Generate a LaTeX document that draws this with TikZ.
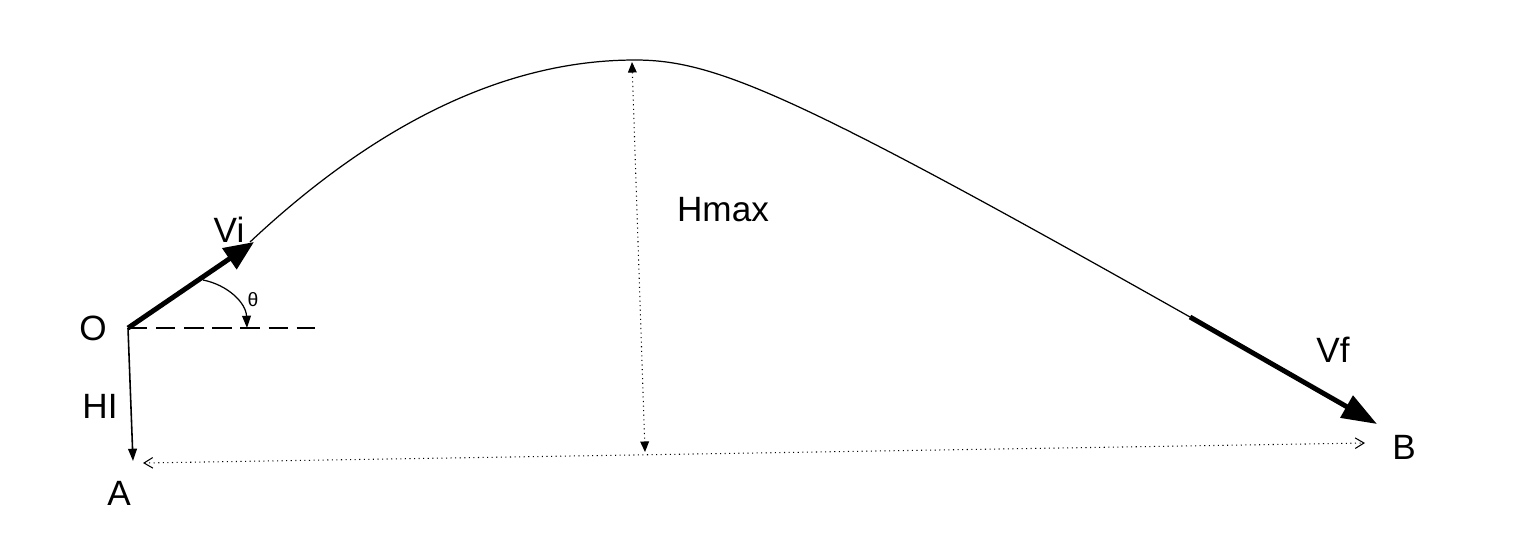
\documentclass[tikz,border=0pt]{standalone}
\usepackage{fontspec}
\setmainfont{Liberation Sans}
\usetikzlibrary{arrows.meta}
\begin{document}
\begin{tikzpicture}[x=0.02cm,y=-0.02cm,
  lbl/.style={font=\fontsize{20}{22}\selectfont, inner sep=0pt},
  thin curve/.style={line width=0.7pt},
  bigvec/.style={line width=2.8pt, -{Triangle[length=17pt,width=14pt]}},
  dotline/.style={line width=0.6pt, dotted},
  tiparrow/.style={-{Triangle[length=7pt,width=5pt]}}
]
\useasboundingbox (0,0) rectangle (1521,559);
% key points
\coordinate (O) at (128,328);
\coordinate (Vtip) at (254,242);
\coordinate (S) at (250,242);
\coordinate (P) at (635,60);
\coordinate (E) at (1190,317);
\coordinate (Ftip) at (1377,424);
\coordinate (Dend) at (315,328);
\coordinate (A) at (133,461);
\coordinate (Ab) at (143,463);
\coordinate (Bb) at (1365,443);
\coordinate (Htop) at (632,62);
\coordinate (Hbot) at (645,452);
\coordinate (Ta) at (203,280);
\coordinate (Tb) at (247,328);
% trajectory
\draw[thin curve] (S) .. controls (379,121) and (508,60) .. (P)
  .. controls (715,60) and (795,94) .. (E);
% velocity vectors
\draw[bigvec] (O) -- (Vtip);
\draw[line width=2.8pt, -{Triangle[length=20pt,width=14pt]}] (E) -- (Ftip);
% horizontal reference dashed
\draw[line width=0.8pt, dash pattern=on 11pt off 5pt] (O) -- (Dend);
% theta arc
\draw[line width=0.7pt, tiparrow] (Ta) .. controls (228,285) and (246,303) .. (Tb);
% initial height
\draw[line width=0.9pt, tiparrow] (O) -- (A);
% range
\draw[dotline, {Straight Barb[length=5pt,width=6pt]}-{Straight Barb[length=5pt,width=6pt]}] (Ab) -- (Bb);
% max height
\draw[dotline, {Triangle[length=6pt,width=5pt]}-{Triangle[length=6pt,width=5pt]}] (Htop) -- (Hbot);
% labels
\node[lbl] (lO) at (93,328) {O};
\node[lbl] (lVi) at (229,230) {Vi};
\node[font=\fontsize{11}{12}\selectfont, inner sep=0pt] (lth) at (253,300) {θ};
\node[lbl] (lHI) at (100,406) {HI};
\node[lbl] (lA) at (119,493) {A};
\node[lbl] (lB) at (1404,447) {B};
\node[lbl] (lVf) at (1333,350) {Vf};
\node[lbl] (lH) at (723,210) {Hmax};
\end{tikzpicture}
\end{document}
